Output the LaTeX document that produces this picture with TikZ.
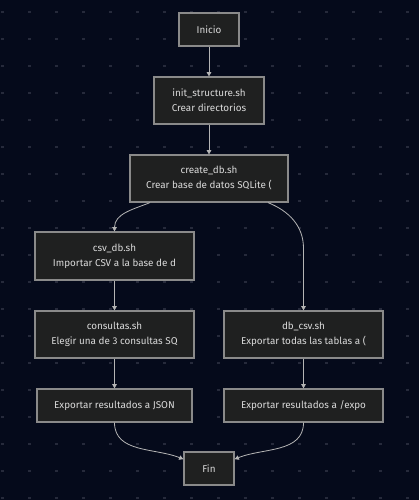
\documentclass[tikz,border=0pt]{standalone}
\usepackage{fontspec}
\setmainfont{Fira Sans}
\usetikzlibrary{arrows.meta, positioning, calc}
\definecolor{bgnavy}{HTML}{050A1B}
\definecolor{griddot}{HTML}{262A3B}
\definecolor{boxfill}{HTML}{1F2020}
\definecolor{boxline}{HTML}{8A8A8A}
\definecolor{boxtext}{HTML}{DADADA}
\definecolor{edgeline}{HTML}{B5B5B5}

\begin{document}
\begin{tikzpicture}[x=0.75pt, y=-0.75pt,
  box/.style={draw=boxline, fill=boxfill, text=boxtext, line width=0.9pt, inner sep=0pt, align=center, font=\fontsize{7.4}{11.25}\selectfont},
  edge/.style={draw=edgeline, line width=0.6pt, -{Triangle[length=3.2pt, width=3.4pt]}}]
\fill[bgnavy] (0,0) rectangle (419,500);
\useasboundingbox (0,0) rectangle (419,500);
\foreach \gx in {0,...,15} \foreach \gy in {0,...,18}
  \fill[griddot] ({2.5+27*\gx-1.2},{12+27*\gy-1.2}) rectangle ++(2.4,2.4);

\node[box, minimum width=45pt, minimum height=24.75pt] (inicio) at (209,29.5) {Inicio};
\node[box, minimum width=82.5pt, minimum height=35.25pt] (init) at (209,100.5) {init\_structure.sh\\Crear directorios};
\node[box, minimum width=118.5pt, minimum height=35.25pt] (create) at (209,178.5) {create\_db.sh\\Crear base de datos SQLite (};
\node[box, minimum width=119.25pt, minimum height=36pt] (csv) at (114.5,256) {csv\_db.sh\\Importar CSV a la base de d};
\node[box, minimum width=119.25pt, minimum height=35.25pt] (consultas) at (114.5,334.5) {consultas.sh\\Elegir una de 3 consultas SQ};
\node[box, minimum width=119.25pt, minimum height=35.25pt] (dbcsv) at (303.5,334.5) {db\_csv.sh\\Exportar todas las tablas a (};
\node[box, minimum width=116.25pt, minimum height=24.75pt] (json) at (114.5,405.5) {Exportar resultados a JSON};
\node[box, minimum width=119.25pt, minimum height=24.75pt] (expo) at (303.5,405.5) {Exportar resultados a /expo};
\node[box, minimum width=37.5pt, minimum height=24.75pt] (fin) at (209,468.5) {Fin};

\draw[edge] (inicio) -- (init);
\draw[edge] (init) -- (create);
\draw[edge] ([xshift=-44.25pt]create.south) to[out=-158, in=90] (csv.north);
\draw[edge] ([xshift=44.25pt]create.south) to[out=-22, in=90] ($(dbcsv.north)+(0,-62)$) -- (dbcsv.north);
\draw[edge] (csv) -- (consultas);
\draw[edge] (consultas) -- (json);
\draw[edge] (dbcsv) -- (expo);
\draw[edge] (json.south) to[out=-90, in=158] ([yshift=7pt]fin.west);
\draw[edge] (expo.south) to[out=-90, in=22] ([yshift=7pt]fin.east);
\end{tikzpicture}
\end{document}
